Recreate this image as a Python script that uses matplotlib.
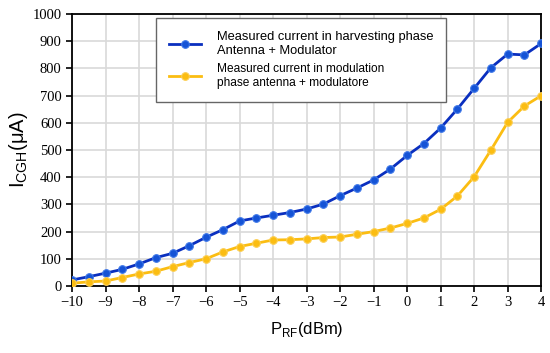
import matplotlib
matplotlib.use("Agg")
import matplotlib.pyplot as plt
import numpy as np

# RF input power (dBm)
p_rf = np.arange(-10, 4.01, 0.5)

# measured current (uA)
harvesting = [22, 34, 47, 61, 81, 104, 120, 148, 179, 207, 239, 250, 260, 270, 283,
              301, 332, 360, 390, 430, 480, 524, 581, 651, 727, 803, 853, 850, 892]
modulation = [10, 15, 18, 31, 44, 54, 71, 86, 100, 125, 145, 157, 169, 170, 173,
              178, 180, 190, 200, 213, 230, 250, 282, 331, 402, 500, 602, 662, 700]

labels = ["Measured current in harvesting phase\nAntenna + Modulator",
          "Measured current in modulation\nphase antenna + modulatore"]

fig = plt.figure(figsize=(5.5, 3.53), dpi=100)
ax = fig.add_axes([0.131, 0.190, 0.853, 0.770])

l1, = ax.plot(p_rf, harvesting, color="#0a2fbf", lw=2, marker="o", ms=5.5,
              mfc="#1553d6", mec="#3f78e8", mew=0.8, zorder=3)
l2, = ax.plot(p_rf, modulation, color="#fbbd12", lw=2, marker="o", ms=5.5,
              mfc="#fbbd12", mec="#fccf55", mew=0.8, zorder=3)

ax.set_xlim(-10, 4)
ax.set_ylim(0, 1000)
ax.set_xticks(np.arange(-10, 5, 1))
ax.set_yticks(np.arange(0, 1001, 100))
ax.grid(True, color="#d9d9d9", lw=1.2)
ax.set_axisbelow(True)
for s in ax.spines.values():
    s.set_linewidth(1.3)
ax.tick_params(direction="out", length=4, width=1.2, labelsize=10.5)
for t in ax.get_xticklabels() + ax.get_yticklabels():
    t.set_fontfamily("Liberation Serif")

ax.set_xlabel(r"P$_{\mathregular{RF}}$(dBm)", fontsize=12, family="Liberation Sans", labelpad=8)
ax.set_ylabel(r"I$_{\mathregular{CGH}}$(μA)", fontsize=14.5, family="Liberation Sans", labelpad=2)

leg = ax.legend([l1, l2], labels, loc="upper left", bbox_to_anchor=(0.179, 0.985),
                borderaxespad=0, fancybox=False, framealpha=1, edgecolor="#666666",
                prop={"family": "Liberation Sans", "size": 9.3},
                handlelength=2.5, handletextpad=1.2, borderpad=1.0, labelspacing=0.5)
leg.get_frame().set_linewidth(1.0)
leg.get_texts()[1].set_fontsize(8.6)

fig.savefig("out.png", dpi=100)
